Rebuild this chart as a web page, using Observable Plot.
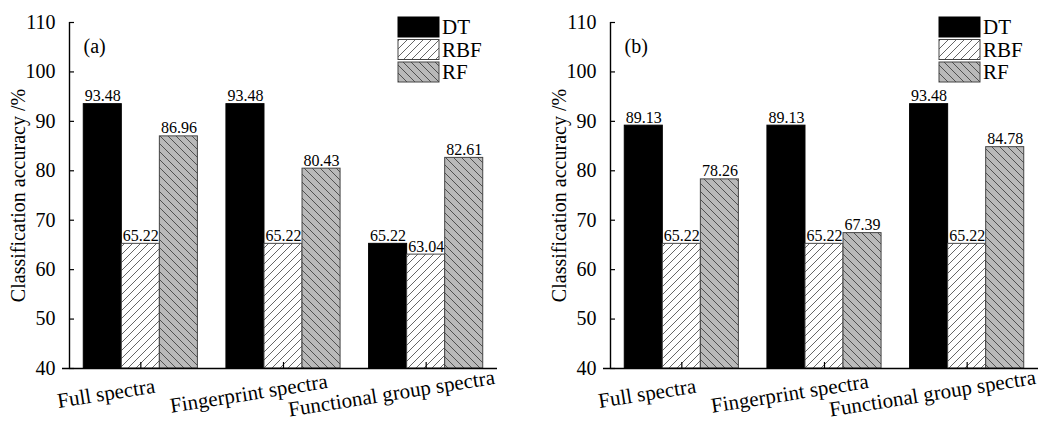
<!DOCTYPE html>
<html>
<head>
<meta charset="utf-8">
<script src="https://cdn.jsdelivr.net/npm/d3@7"></script>
<script src="https://cdn.jsdelivr.net/npm/@observablehq/plot@0.6"></script>
<style>
  html, body { margin: 0; padding: 0; background: #fff; }
  #wrap { position: relative; width: 1044px; height: 423px; overflow: hidden; }
  #wrap > svg.plot { position: absolute; top: 0; }
</style>
</head>
<body>
<svg width="0" height="0" style="position:absolute">
  <defs>
    <pattern id="hatchRBF" patternUnits="userSpaceOnUse" width="8" height="8">
      <rect width="8" height="8" fill="#ffffff"/>
      <path d="M-2,2 l4,-4 M0,8 l8,-8 M6,10 l4,-4" stroke="#555" stroke-width="0.9"/>
    </pattern>
    <pattern id="hatchRF" patternUnits="userSpaceOnUse" width="8" height="8">
      <rect width="8" height="8" fill="#b9b9b9"/>
      <path d="M-2,6 l4,4 M0,0 l8,8 M6,-2 l4,4" stroke="#444" stroke-width="0.9"/>
    </pattern>
  </defs>
</svg>
<div id="wrap"></div>
<script>
// ---- data ----
const categories = ["Full spectra", "Fingerprint spectra", "Functional group spectra"];
const models = ["DT", "RBF", "RF"];
const panelLabels = ["(a)", "(b)"];
const aDT  = [93.48, 93.48, 65.22];
const aRBF = [65.22, 65.22, 63.04];
const aRF  = [86.96, 80.43, 82.61];
const bDT  = [89.13, 89.13, 93.48];
const bRBF = [65.22, 65.22, 65.22];
const bRF  = [78.26, 67.39, 84.78];
const yTicks = [40, 50, 60, 70, 80, 90, 100, 110];
const yLabel = "Classification accuracy /%";

// ---- styles ----
const fills = {DT: "black", RBF: "url(#hatchRBF)", RF: "url(#hatchRF)"};
const strokes = {DT: "black", RBF: "#444", RF: "#444"};
const font = "'Liberation Serif', 'Times New Roman', serif";
const yDomain = [40, 110];
const xDomain = [-0.5, 2.5];
const groupWidth = 0.8;

function rowsFor(series) {
  const rows = [];
  const bw = groupWidth / models.length;
  categories.forEach((cat, ci) => {
    models.forEach((m, mi) => {
      const x1 = ci - groupWidth / 2 + mi * bw;
      rows.push({cat, ci, model: m, value: series[m][ci], x1, x2: x1 + bw, xc: x1 + bw / 2});
    });
  });
  return rows;
}

function makePanel(label, series, left, width, marginRight) {
  const rows = rowsFor(series);
  const plot = Plot.plot({
    width, height: 423,
    marginLeft: 69, marginRight, marginTop: 22, marginBottom: 55,
    style: {fontFamily: font, fontSize: "20px", color: "black", background: "transparent", overflow: "visible"},
    x: {domain: xDomain, axis: null},
    y: {domain: yDomain, axis: null},
    marks: [
      ...models.map(m => Plot.rect(rows.filter(d => d.model === m), {
        x1: "x1", x2: "x2", y1: yDomain[0], y2: "value",
        fill: fills[m], stroke: strokes[m], strokeWidth: 1
      })),
      Plot.text(rows, {
        x: "xc", y: "value", text: d => d.value.toFixed(2),
        lineAnchor: "bottom", dy: -3, fontSize: 16, fill: "black"
      }),
      // axes
      Plot.ruleY([yDomain[0]], {stroke: "black", strokeWidth: 1.4, insetLeft: -7}),
      Plot.ruleX([xDomain[0]], {stroke: "black", strokeWidth: 1.4}),
      Plot.ruleY(yTicks, {x1: xDomain[0], x2: xDomain[0], insetRight: -5, stroke: "black", strokeWidth: 1.2}),
      Plot.ruleX([0, 1, 2], {y1: yDomain[0], y2: yDomain[0], insetBottom: 6, stroke: "black", strokeWidth: 1.2}),
      Plot.axisY({ticks: yTicks, tickSize: 0, tickPadding: 14, label: null, fontSize: 20, tickFormat: d => d}),
      Plot.axisX({ticks: [0, 1, 2], tickFormat: i => categories[i], tickSize: 0, tickPadding: 17,
        tickRotate: -9, textAnchor: "middle", dx: -36, label: null, fontSize: 21}),
      Plot.text([yLabel], {frameAnchor: "left", rotate: -90, dx: -51, textAnchor: "middle", fontSize: 20, fill: "black"}),
      Plot.text([label], {frameAnchor: "top-left", dx: 14, dy: 16, fontSize: 20, fill: "black", textAnchor: "start"})
    ]
  });
  plot.classList.add("plot");
  plot.style.left = left + "px";
  // legend
  const svg = d3.select(plot);
  const g = svg.append("g").attr("transform", `translate(${width - marginRight - 99},17)`)
    .attr("text-anchor", "start");
  models.forEach((m, i) => {
    g.append("rect").attr("x", 0).attr("y", i * 22.5).attr("width", 41).attr("height", 20)
      .attr("fill", fills[m]).attr("stroke", strokes[m]).attr("stroke-width", 1);
    g.append("text").attr("x", 44).attr("y", i * 22.5 + 10).attr("dy", "0.35em")
      .attr("text-anchor", "start")
      .attr("font-family", font).attr("font-size", 21).attr("fill", "black").text(m);
  });
  document.getElementById("wrap").appendChild(plot);
}

makePanel(panelLabels[0], {DT: aDT, RBF: aRBF, RF: aRF}, 0, 541, 44);
makePanel(panelLabels[1], {DT: bDT, RBF: bRBF, RF: bRF}, 541, 503, 6);
</script>
</body>
</html>
